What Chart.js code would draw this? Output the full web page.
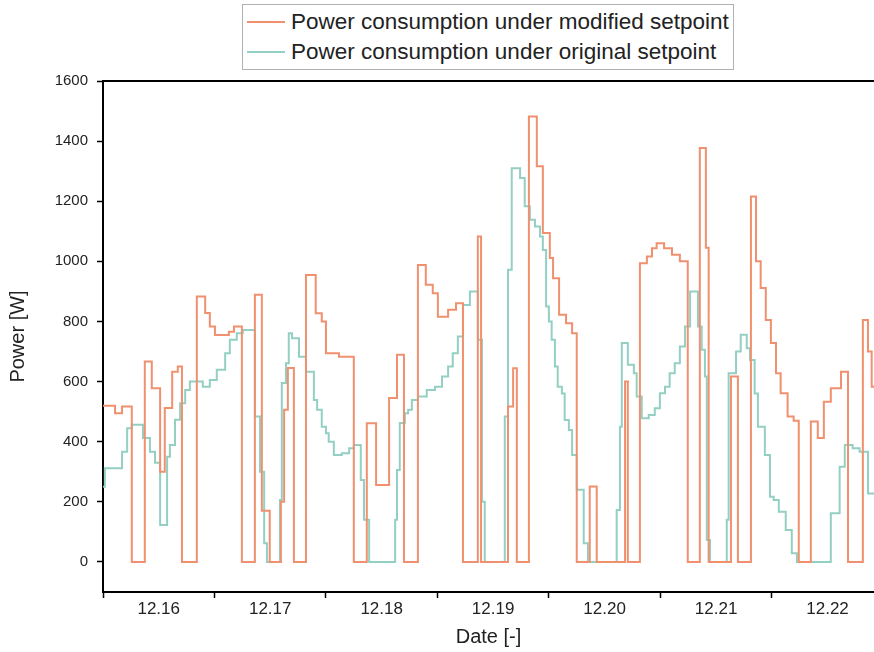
<!DOCTYPE html>
<html lang="en">
<head>
<meta charset="UTF-8">
<title>Power consumption</title>
<script src="https://cdn.jsdelivr.net/npm/chart.js"></script>
<style>
  body { margin: 0; background: #fff; font-family: 'Liberation Sans', Arial, sans-serif; }
  .wrap { position: relative; width: 874px; height: 652px; }
  .legend {
    position: absolute; left: 242px; top: 4px;
    border: 1px solid #b0b0b0; background: #fff;
    padding: 2px 4px 2px 4px;
  }
  .legend-row { display: flex; align-items: center; height: 30px; font-size: 22.5px; color: #222; }
  .legend-line { width: 38px; height: 2px; margin-right: 6px; }
</style>
</head>
<body>
<div class="wrap">
  <canvas id="chart" width="874" height="652"></canvas>
  <div class="legend" id="legend"></div>
</div>
<script>
// x in hours since the start of 12.16, y in W (value holds until the next point)
const dayLabels = ['12.16', '12.17', '12.18', '12.19', '12.20', '12.21', '12.22'];
const yTicks = [0, 200, 400, 600, 800, 1000, 1200, 1400, 1600];

const modHours = [0, 2.6, 4.1, 6.2, 9.0, 10.5, 12.3, 13.3, 14.9, 16.1, 17.0, 20.2, 22.0, 23.0, 24.1, 27.1,
  28.2, 29.9, 32.7, 34.2, 35.9, 38.3, 39.0, 39.8, 41.1, 43.7, 45.8, 47.1, 48.0, 50.8, 54.0, 56.8, 58.8,
  61.6, 63.3, 64.8, 67.8, 69.5, 71.0, 72.1, 74.3, 76.0, 77.5, 80.7, 81.4, 87.2, 88.3, 89.1, 91.7, 93.4,
  94.7, 96.2, 96.9, 98.2, 99.7, 101.0, 102.0, 104.8, 106.3, 112.4, 113.0, 115.6, 117.1, 118.2, 119.2,
  120.8, 122.5, 124.2, 125.9, 128.5, 129.8, 130.4, 135.2, 136.7, 139.5, 140.6, 141.6, 142.7, 143.8,
  144.9, 145.9, 147.4, 148.7, 149.8, 152.4, 153.9, 155.2, 156.7, 158.9, 160.4, 163.6, 164.7, 165.5, 166.5];
const modPower = [520, 495, 517, 0, 667, 578, 300, 512, 633, 650, 0, 883, 828, 783, 755, 766,
  783, 0, 889, 170, 0, 200, 506, 645, 0, 955, 827, 800, 694, 683, 0, 461, 256,
  545, 689, 0, 988, 922, 894, 816, 839, 861, 0, 1083, 0, 517, 644, 0, 1482, 1316,
  1094, 1011, 944, 822, 794, 761, 0, 251, 0, 600, 0, 994, 1016, 1044, 1060,
  1044, 1022, 1000, 0, 1377, 1045, 0, 617, 0, 1216, 1000, 911, 805, 728,
  628, 561, 484, 470, 0, 467, 412, 533, 578, 633, 0, 805, 700, 583, 583];

const origHours = [0, 0.4, 4.1, 5.2, 6.2, 8.6, 10.1, 11.2, 12.3, 13.8, 14.4, 15.5, 16.6, 17.7, 18.7, 21.5,
  23.0, 24.5, 26.3, 27.3, 28.8, 30.1, 32.7, 33.8, 34.7, 35.3, 38.1, 38.5, 39.4, 40.0, 40.7, 42.2, 43.7,
  45.4, 46.1, 47.1, 48.0, 48.6, 49.7, 51.4, 53.0, 54.0, 55.5, 56.2, 57.3, 62.9, 63.3, 63.9, 65.0, 65.7,
  66.5, 67.8, 69.7, 71.5, 73.0, 74.3, 75.3, 76.4, 77.5, 79.0, 80.7, 81.6, 82.2, 86.5, 87.2, 88.0, 89.8,
  90.8, 91.9, 93.0, 94.1, 94.7, 95.4, 96.0, 96.6, 97.3, 97.9, 98.8, 99.4, 100.3, 101.0, 102.0, 103.5,
  104.4, 110.6, 111.3, 111.7, 113.0, 114.3, 114.9, 116.0, 117.5, 118.8, 119.9, 121.0, 122.0, 123.1,
  124.2, 125.3, 126.4, 128.1, 128.9, 129.6, 130.0, 130.7, 134.3, 134.7, 136.3, 137.3, 138.6, 139.3,
  140.3, 141.0, 142.5, 143.6, 144.4, 145.5, 147.0, 148.3, 149.4, 156.7, 158.6, 159.7, 161.4, 162.9,
  164.7, 166.5];
const origPower = [250, 312, 367, 445, 456, 412, 367, 330, 123, 350, 389, 473, 528, 572, 600, 583,
  605, 639, 694, 739, 761, 772, 484, 300, 62, 0, 206, 595, 661, 761, 744, 683, 633,
  539, 506, 450, 428, 400, 356, 362, 378, 389, 273, 140, 0, 140, 306, 462, 495, 506,
  539, 550, 572, 583, 617, 650, 694, 750, 855, 900, 739, 200, 0, 484, 972, 1310, 1277,
  1183, 1138, 1116, 1083, 1038, 850, 800, 739, 650, 583, 560, 472, 439, 356, 240, 62,
  0, 173, 450, 728, 656, 628, 550, 478, 489, 511, 561, 583, 628, 661,
  717, 783, 900, 783, 706, 617, 73, 0, 140, 628, 700, 756, 711, 672,
  560, 450, 356, 217, 206, 167, 106, 29, 0, 162, 317, 389, 378, 367,
  228, 228];

const toPoints = (xs, ys) => xs.map((x, i) => ({ x: x, y: ys[i] }));

// top frame line of the plot box
const frameTop = {
  id: 'frameTop',
  afterDraw(chart) {
    const { ctx, chartArea } = chart;
    ctx.save();
    ctx.strokeStyle = '#000';
    ctx.lineWidth = 2;
    ctx.beginPath();
    ctx.moveTo(chartArea.left - 1, chartArea.top);
    ctx.lineTo(chartArea.right, chartArea.top);
    ctx.stroke();
    ctx.restore();
  }
};

const chart = new Chart(document.getElementById('chart'), {
  type: 'line',
  data: {
    datasets: [{
      label: 'Power consumption under modified setpoint',
      data: toPoints(modHours, modPower),
      borderColor: '#F0906F',
      borderWidth: 2,
      pointRadius: 0,
      stepped: 'before'
    }, {
      label: 'Power consumption under original setpoint',
      data: toPoints(origHours, origPower),
      borderColor: '#93D0C3',
      borderWidth: 2,
      pointRadius: 0,
      stepped: 'before'
    }]
  },
  options: {
    responsive: false,
    animation: false,
    layout: { padding: { top: 81, right: 0, bottom: 0, left: 0 } },
    plugins: {
      legend: { display: false },
      tooltip: { enabled: false }
    },
    scales: {
      x: {
        type: 'linear',
        min: 0,
        max: 166,
        afterBuildTicks: (axis) => {
          axis.ticks = [];
          dayLabels.forEach((d, i) => {
            axis.ticks.push({ value: i * 24 });
            axis.ticks.push({ value: i * 24 + 12 });
          });
        },
        afterFit: (s) => { s.height = 60; },
        ticks: {
          autoSkip: false,
          maxRotation: 0,
          padding: 1,
          color: '#222',
          font: { family: 'Liberation Sans', size: 17 },
          callback: (v) => (v % 24 === 12 ? dayLabels[(v - 12) / 24] : '')
        },
        grid: {
          drawOnChartArea: false,
          tickLength: 6,
          tickWidth: 1.5,
          tickColor: (c) => (c.tick && c.tick.value % 24 === 0 ? '#000' : 'rgba(0,0,0,0)')
        },
        border: { color: '#000', width: 2 },
        title: {
          display: true,
          text: 'Date [-]',
          color: '#222',
          font: { family: 'Liberation Sans', size: 20 },
          padding: { top: 0, bottom: 3 }
        }
      },
      y: {
        min: -100,
        max: 1600,
        afterBuildTicks: (axis) => { axis.ticks = yTicks.map(v => ({ value: v })); },
        afterFit: (s) => { s.width = 103; },
        ticks: {
          padding: 9,
          color: '#222',
          font: { family: 'Liberation Sans', size: 15 },
          callback: (v) => String(v)
        },
        grid: {
          drawOnChartArea: false,
          tickLength: 6,
          tickWidth: 1.5,
          tickColor: '#000'
        },
        border: { color: '#000', width: 2 },
        title: {
          display: true,
          text: 'Power [W]',
          color: '#222',
          font: { family: 'Liberation Sans', size: 20 },
          padding: { top: 6, bottom: 0 }
        }
      }
    }
  },
  plugins: [frameTop]
});

// legend box built from the datasets
const legendEl = document.getElementById('legend');
chart.data.datasets.forEach((ds) => {
  const row = document.createElement('div');
  row.className = 'legend-row';
  const line = document.createElement('span');
  line.className = 'legend-line';
  line.style.background = ds.borderColor;
  const txt = document.createElement('span');
  txt.textContent = ds.label;
  row.appendChild(line);
  row.appendChild(txt);
  legendEl.appendChild(row);
});
</script>
</body>
</html>
